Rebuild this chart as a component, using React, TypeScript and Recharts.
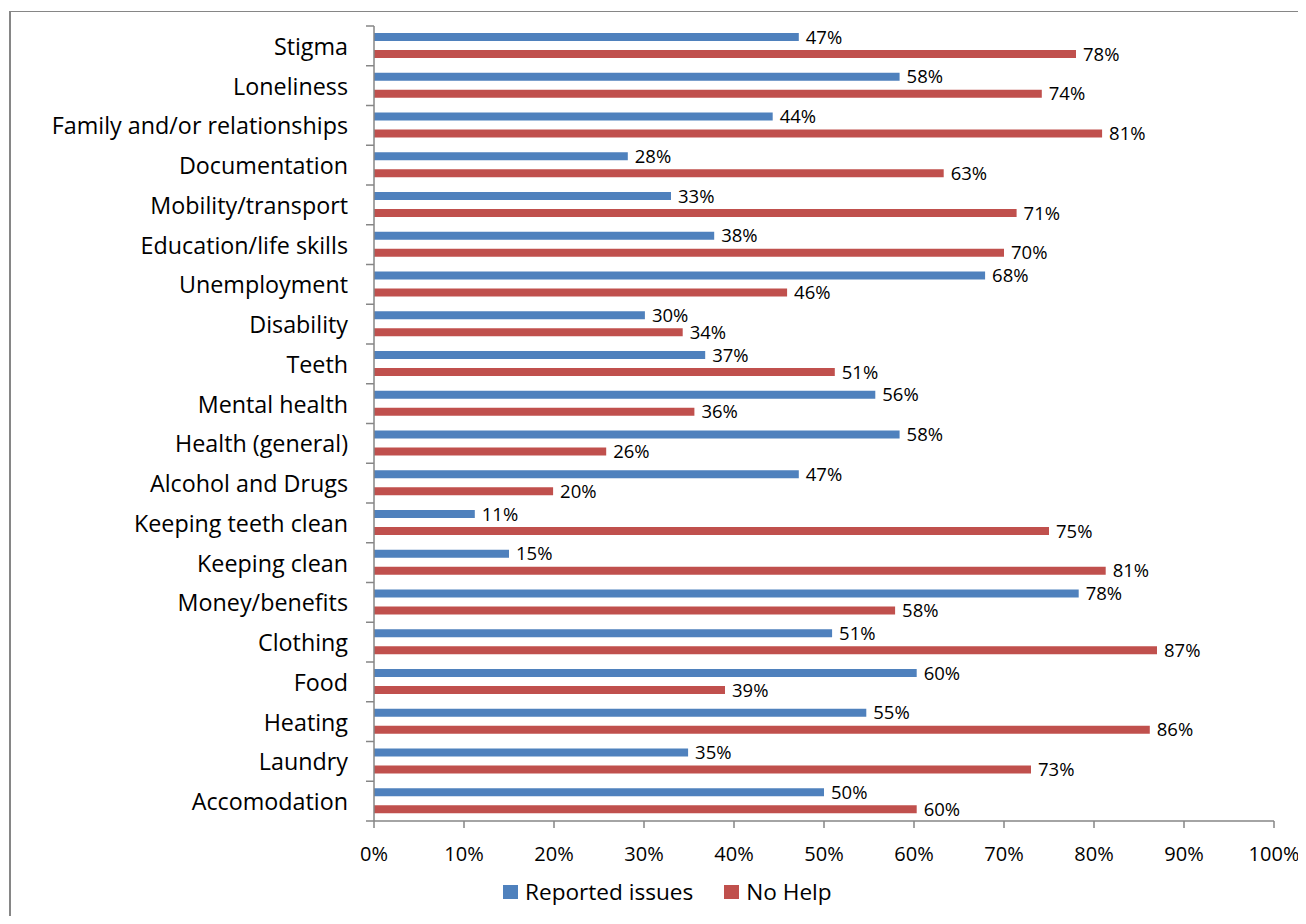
import React from "react";
import { BarChart, Bar, XAxis, YAxis, Legend, LabelList } from "recharts";

const categories = [
  "Stigma",
  "Loneliness",
  "Family and/or relationships",
  "Documentation",
  "Mobility/transport",
  "Education/life skills",
  "Unemployment",
  "Disability",
  "Teeth",
  "Mental health",
  "Health (general)",
  "Alcohol and Drugs",
  "Keeping teeth clean",
  "Keeping clean",
  "Money/benefits",
  "Clothing",
  "Food",
  "Heating",
  "Laundry",
  "Accomodation",
];

const reportedIssues = [
  47.2, 58.4, 44.3, 28.2, 33.0, 37.8, 67.9, 30.1, 36.8, 55.7, 58.4, 47.2, 11.2,
  15.0, 78.3, 50.9, 60.3, 54.7, 34.9, 50.0,
];

const noHelp = [
  78.0, 74.2, 80.9, 63.3, 71.4, 70.0, 45.9, 34.3, 51.2, 35.6, 25.8, 19.9, 75.0,
  81.3, 57.9, 87.0, 39.0, 86.2, 73.0, 60.3,
];

const xTicks = [0, 10, 20, 30, 40, 50, 60, 70, 80, 90, 100];

const seriesNames = ["Reported issues", "No Help"];
const BLUE = "#4F81BD";
const RED = "#C0504D";
const AXIS = "#868686";
const FONT = "'Open Sans', Lato, sans-serif";

const data = categories.map((name, i) => ({
  name,
  reported: reportedIssues[i],
  nohelp: noHelp[i],
}));

const W = 1298;
const H = 916;
const M = { top: 18, right: 32, left: 6, bottom: 31 };
const Y_W = 360;
const X_H = 40;
const LEG_H = 24;
const PLOT_H = H - 8 - M.top - M.bottom - X_H - LEG_H;
const BAND = PLOT_H / categories.length;

const YTick = (props: any) => {
  const { x, y, payload, index } = props;
  const half = BAND / 2;
  return (
    <g>
      <text
        x={x - 26}
        y={y}
        textAnchor="end"
        dominantBaseline="central"
        fill="#000"
        fontSize={23.3}
        fontFamily={FONT}
      >
        {payload.value}
      </text>
      <line x1={x - 8} x2={x} y1={y - half} y2={y - half} stroke={AXIS} strokeWidth={1.5} />
      {index === categories.length - 1 ? (
        <line x1={x - 8} x2={x} y1={y + half} y2={y + half} stroke={AXIS} strokeWidth={1.5} />
      ) : null}
    </g>
  );
};

const LegendContent = () => (
  <div
    style={{
      display: "flex",
      alignItems: "center",
      fontFamily: FONT,
      fontSize: 22.6,
      color: "#000",
      height: LEG_H,
      lineHeight: `${LEG_H}px`,
      whiteSpace: "nowrap",
    }}
  >
    {seriesNames.map((n, i) => (
      <div key={n} style={{ display: "flex", alignItems: "center", marginRight: i === 0 ? 31 : 0 }}>
        <span
          style={{
            display: "inline-block",
            width: 15,
            height: 14,
            background: i === 0 ? BLUE : RED,
            marginRight: 7,
          }}
        />
        <span>{n}</span>
      </div>
    ))}
  </div>
);

const fmt = (v: any) => `${Math.round(Number(v))}%`;

export default function App() {
  return (
    <div style={{ position: "relative", width: W, height: H - 8, overflow: "hidden", background: "#fff" }}>
      <div
        style={{
          position: "absolute",
          left: 1,
          top: 3,
          width: 2000,
          height: 2000,
          borderTop: `1px solid ${AXIS}`,
          borderLeft: `2px solid ${AXIS}`,
        }}
      />
      <div style={{ position: "absolute", left: 0, top: 0 }}>
        <BarChart
          width={W}
          height={H - 8}
          data={data}
          layout="vertical"
          margin={M}
          barCategoryGap={7}
          barGap={9}
        >
          <XAxis
            type="number"
            domain={[0, 100]}
            ticks={xTicks}
            tickFormatter={(v) => `${v}%`}
            height={X_H}
            stroke={AXIS}
            strokeWidth={1.5}
            tickSize={7}
            tickMargin={19}
            tick={{ fill: "#000", fontSize: 20, fontFamily: FONT }}
            interval={0}
          />
          <YAxis
            type="category"
            dataKey="name"
            width={Y_W}
            stroke={AXIS}
            strokeWidth={1.5}
            tickLine={false}
            tickSize={0}
            tickMargin={0}
            tick={<YTick />}
            interval={0}
          />
          <Legend
            content={<LegendContent />}
            verticalAlign="bottom"
            wrapperStyle={{ left: 495, top: 872, bottom: "auto", width: "auto" }}
          />
          <Bar dataKey="reported" name={seriesNames[0]} fill={BLUE} isAnimationActive={false}>
            <LabelList
              dataKey="reported"
              position="right"
              offset={7}
              formatter={fmt}
              fill="#000"
              fontSize={18.5}
              fontFamily={FONT}
            />
          </Bar>
          <Bar dataKey="nohelp" name={seriesNames[1]} fill={RED} isAnimationActive={false}>
            <LabelList
              dataKey="nohelp"
              position="right"
              offset={7}
              formatter={fmt}
              fill="#000"
              fontSize={18.5}
              fontFamily={FONT}
            />
          </Bar>
        </BarChart>
      </div>
    </div>
  );
}
